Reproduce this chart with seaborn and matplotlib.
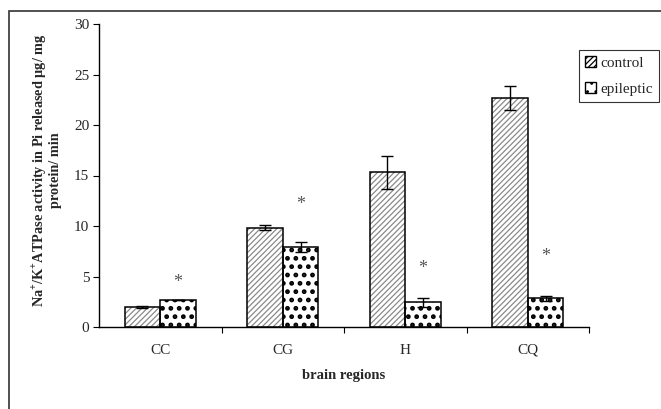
import matplotlib
matplotlib.use("Agg")
import matplotlib.pyplot as plt
import seaborn as sns
import pandas as pd
import numpy as np
from matplotlib.patches import Rectangle, Patch

regions = ["CC", "CG", "H", "CQ"]
groups = ["control", "epileptic"]
control_mean = [2.0, 9.85, 15.3, 22.7]
control_err = [0.12, 0.27, 1.6, 1.2]
epileptic_mean = [2.7, 7.95, 2.45, 2.85]
epileptic_err = [0.0, 0.5, 0.45, 0.25]
star_y = [4.4, 12.1, 5.8, 7.0]
yticks = [0, 5, 10, 15, 20, 25, 30]

sns.set_theme(style="white")
plt.rcParams["font.family"] = ["Liberation Serif", "DejaVu Serif"]
plt.rcParams["mathtext.fontset"] = "custom"
plt.rcParams["mathtext.rm"] = "Liberation Serif:bold"
plt.rcParams["mathtext.bf"] = "Liberation Serif:bold"
plt.rcParams["hatch.linewidth"] = 0.9

FS = 11

df = pd.DataFrame({
    "region": regions * 2,
    "group": [groups[0]] * 4 + [groups[1]] * 4,
    "value": control_mean + epileptic_mean,
    "err": control_err + epileptic_err,
})

fig = plt.figure(figsize=(6.61, 4.09), dpi=100)
ax = fig.add_axes([99 / 661, 1 - 327 / 409, (589 - 99) / 661, (327 - 24) / 409])

sns.barplot(data=df, x="region", y="value", hue="group", order=regions,
            hue_order=groups, ax=ax, width=0.58, errorbar=None, legend=False,
            palette=["white", "white"], saturation=1)


def set_hlw(p, lw):
    if hasattr(p, "set_hatch_linewidth"):
        p.set_hatch_linewidth(lw)
    else:
        p._hatch_linewidth = lw


patches = [p for p in ax.patches if isinstance(p, Rectangle)]
n = len(regions)
for i, p in enumerate(patches[:2 * n]):
    gi = i // n
    if gi == 0:
        p.set_hatch("//////")
        p.set_edgecolor("#8a8a8a")
        set_hlw(p, 0.9)
    else:
        p.set_hatch("..")
        p.set_edgecolor("black")
        set_hlw(p, 2.2)
    p.set_linewidth(0)
    outline = Rectangle(p.get_xy(), p.get_width(), p.get_height(), fill=False,
                        edgecolor="black", linewidth=1.1, zorder=3)
    ax.add_patch(outline)

# error bars
means = [control_mean, epileptic_mean]
errs = [control_err, epileptic_err]
for gi in range(2):
    xs = [patches[gi * n + j].get_x() + patches[gi * n + j].get_width() / 2 for j in range(n)]
    ax.errorbar(xs, means[gi], yerr=errs[gi], fmt="none", ecolor="black",
                elinewidth=1.0, capsize=4.5, capthick=1.0, zorder=4)
    if gi == 1:
        for x, y in zip(xs, star_y):
            ax.text(x, y, "*", ha="center", va="center", fontsize=13, color="#555555")

ax.set_xlim(-0.5, 3.5)
ax.set_ylim(0, 30)
ax.set_yticks(yticks)
ax.set_yticklabels([str(t) for t in yticks], fontsize=FS)
ax.set_xticks(range(n))
ax.set_xticklabels(regions, fontsize=FS)
ax.set_xticks(np.arange(0.5, n, 1.0), minor=True)
ax.tick_params(axis="x", which="major", length=0, pad=12)
ax.tick_params(axis="x", which="minor", length=4, width=0.8, color="black", direction="out", bottom=True)
ax.tick_params(axis="y", length=4, width=0.8, color="black", direction="out", left=True, pad=3)
for s in ["top", "right"]:
    ax.spines[s].set_visible(False)
for s in ["left", "bottom"]:
    ax.spines[s].set_color("black")
    ax.spines[s].set_linewidth(1.0)

ax.set_xlabel("brain regions", fontsize=FS - 0.5, fontweight="bold", labelpad=9)
ax.set_ylabel("Na$^{+}$/K$^{+}$ATPase activity in Pi released µg/ mg\nprotein/ min",
              fontsize=10.3, fontweight="bold", linespacing=1.0)
ax.yaxis.set_label_coords(-(99 - 46.5) / 490, (327 - 170) / 303)
ax.yaxis.label.set_va("center")

handles = [Patch(facecolor="white", edgecolor="black", hatch="//////", label="control"),
           Patch(facecolor="white", edgecolor="black", hatch="..", label="epileptic")]
leg = fig.legend(handles=handles, loc="upper left",
                 bbox_to_anchor=(579 / 661, 1 - 50 / 409), fontsize=FS,
                 frameon=True, fancybox=False, edgecolor="black",
                 handlelength=0.7, handleheight=0.7, handletextpad=0.3,
                 borderpad=0.4, labelspacing=0.8, borderaxespad=0)
leg.get_frame().set_linewidth(0.8)

fig.patches.append(Rectangle((9 / 661, -0.1), 1.2, 1 - 11 / 409 + 0.1,
                             transform=fig.transFigure, fill=False,
                             edgecolor="#333333", linewidth=1.2))

fig.savefig("out.png", dpi=100)
